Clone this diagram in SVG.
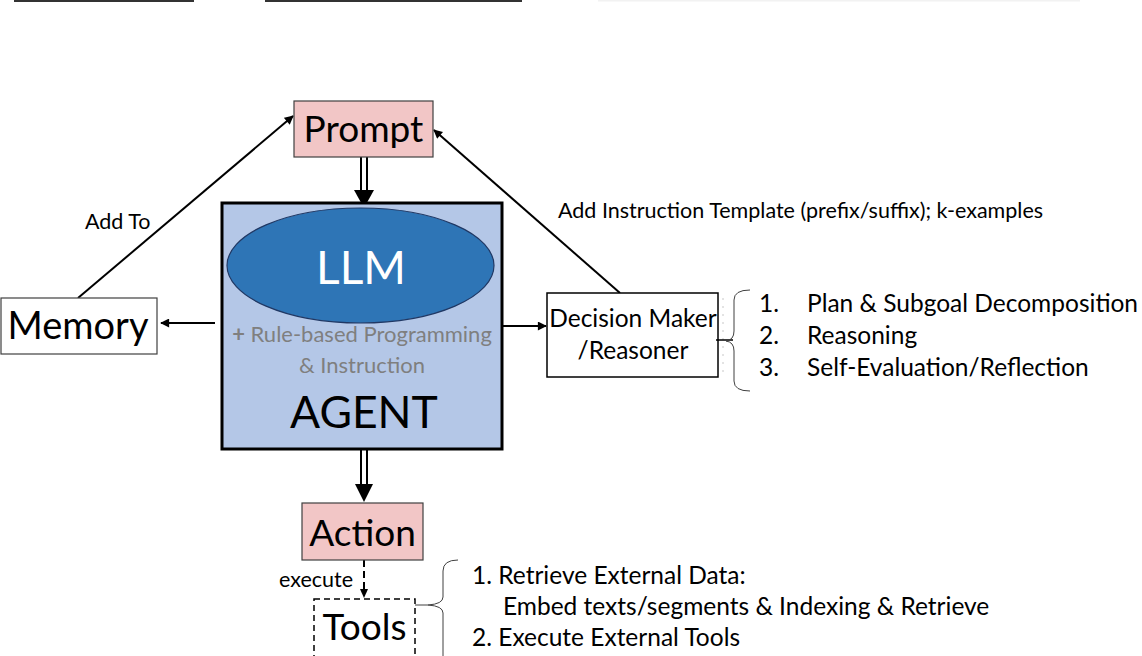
<svg xmlns="http://www.w3.org/2000/svg" width="1142" height="656" viewBox="0 0 1142 656">
  <defs>
    <style>
      text { font-family: Lato, "Open Sans", "Liberation Sans", sans-serif; fill: #000; }
      .big { font-size: 37px; }
      .lbl { font-size: 21.5px; }
      .list { font-size: 24.5px; }
      .pink { fill: #f2c6c6; stroke: #404040; stroke-width: 1.2; }
      .plain { fill: #fff; stroke: #404040; stroke-width: 1.2; }
      .line { stroke: #000; stroke-width: 2; fill: none; }
      .brace { stroke: #404040; stroke-width: 1; fill: none; }
    </style>
    <marker id="headSmall" viewBox="0 0 10 10" refX="9" refY="5" markerWidth="10" markerHeight="9" markerUnits="userSpaceOnUse" orient="auto">
      <path d="M0,0 L10,5 L0,10 Z" fill="#000"/>
    </marker>
  </defs>

  <rect width="1142" height="656" fill="#fff"/>

  <!-- header rules along the top edge -->
  <rect x="14" y="0" width="180" height="2" fill="#333"/>
  <rect x="265" y="0" width="257" height="2" fill="#333"/>
  <rect x="598" y="0" width="482" height="1.5" fill="#f2f2f2"/>

  <!-- connectors -->
  <g id="connectors">
    <!-- Prompt => Agent (double shaft) -->
    <line x1="361" y1="157" x2="361" y2="192" stroke="#000" stroke-width="2"/>
    <line x1="367" y1="157" x2="367" y2="192" stroke="#000" stroke-width="2"/>
    <path d="M354,190 L374,190 L364,208 Z" fill="#000"/>

    <!-- Agent => Action (double shaft) -->
    <line x1="361" y1="450" x2="361" y2="486" stroke="#000" stroke-width="2"/>
    <line x1="367" y1="450" x2="367" y2="486" stroke="#000" stroke-width="2"/>
    <path d="M355,484 L373,484 L364,502 Z" fill="#000"/>

    <!-- Agent -> Memory -->
    <line class="line" x1="215" y1="323" x2="161" y2="323" marker-end="url(#headSmall)"/>
    <!-- Memory -> Prompt -->
    <line class="line" x1="78" y1="298" x2="293" y2="116" marker-end="url(#headSmall)"/>
    <text class="lbl" x="85" y="229">Add To</text>
    <!-- Decision Maker -> Prompt -->
    <line class="line" x1="620" y1="293" x2="434" y2="130" marker-end="url(#headSmall)"/>
    <text class="lbl" x="558" y="218">Add Instruction Template (prefix/suffix); k-examples</text>
    <!-- Agent -> Decision Maker -->
    <line class="line" x1="502" y1="326" x2="546" y2="326" marker-end="url(#headSmall)"/>

    <!-- Action -> Tools (dashed) -->
    <line x1="364" y1="560" x2="364" y2="590" stroke="#000" stroke-width="2" stroke-dasharray="7,4"/>
    <path d="M360,589 L368,589 L364,598 Z" fill="#000"/>
    <text class="lbl" x="279" y="587">execute</text>
  </g>

  <!-- Prompt -->
  <g id="prompt">
    <rect class="pink" x="294" y="101" width="139" height="56"/>
    <text class="big" x="363.5" y="142" text-anchor="middle">Prompt</text>
  </g>

  <!-- Agent with LLM core -->
  <g id="agent">
    <rect x="222" y="203" width="280" height="246" fill="#b4c7e7" stroke="#000" stroke-width="3"/>
    <ellipse cx="360.5" cy="265.5" rx="133.5" ry="57.5" fill="#2e75b6" stroke="#203864" stroke-width="1.2"/>
    <text x="361" y="284" text-anchor="middle" font-size="46" style="fill:#fff">LLM</text>
    <text x="362" y="342" text-anchor="middle" font-size="22" style="fill:#7f7f7f"><tspan font-weight="bold">+</tspan> Rule-based Programming</text>
    <text x="362" y="373" text-anchor="middle" font-size="22" style="fill:#7f7f7f">&amp; Instruction</text>
    <text x="364" y="428" text-anchor="middle" font-size="44.5">AGENT</text>
  </g>

  <!-- Memory -->
  <g id="memory">
    <rect class="plain" x="1" y="298" width="156" height="56"/>
    <text x="78" y="339" text-anchor="middle" font-size="38">Memory</text>
  </g>

  <!-- Decision Maker / Reasoner -->
  <g id="decision">
    <rect x="547" y="293" width="171" height="84" fill="#fff" stroke="#000" stroke-width="1.5"/>
    <text x="633" y="327" text-anchor="middle" font-size="24.5">Decision Maker</text>
    <text x="633" y="359" text-anchor="middle" font-size="24.5">/Reasoner</text>
    <line x1="723" y1="298" x2="723" y2="372" stroke="#c8c8c8" stroke-width="1" stroke-dasharray="2,6"/>
    <line x1="716" y1="340" x2="733" y2="340" stroke="#000" stroke-width="1.5"/>
    <path class="brace" d="M750,290 Q734,290 734,300 L734,331 Q734,340 726,341 Q734,342 734,351 L734,381 Q734,391 750,391"/>
    <g class="list">
      <text x="759" y="312">1.</text><text x="807" y="312">Plan &amp; Subgoal Decomposition</text>
      <text x="759" y="344">2.</text><text x="807" y="344">Reasoning</text>
      <text x="759" y="376">3.</text><text x="807" y="376">Self-Evaluation/Reflection</text>
    </g>
  </g>

  <!-- Action -->
  <g id="action">
    <rect class="pink" x="302" y="503" width="121" height="57"/>
    <text class="big" x="362.5" y="546" text-anchor="middle">Action</text>
  </g>

  <!-- Tools -->
  <g id="tools">
    <rect x="314" y="599" width="101" height="70" fill="#fff" stroke="#000" stroke-width="1.5" stroke-dasharray="6,4"/>
    <text class="big" x="364.5" y="640" text-anchor="middle">Tools</text>
    <line x1="415" y1="605" x2="428" y2="605" stroke="#404040" stroke-width="1"/>
    <path class="brace" d="M458,560 Q443,560 443,571 L443,597 Q443,604 428,605 Q443,606 443,613 L443,680"/>
    <g class="list">
      <text x="472" y="584">1. Retrieve External Data:</text>
      <text x="503" y="615">Embed texts/segments &amp; Indexing &amp; Retrieve</text>
      <text x="472" y="646">2. Execute External Tools</text>
    </g>
  </g>
</svg>
